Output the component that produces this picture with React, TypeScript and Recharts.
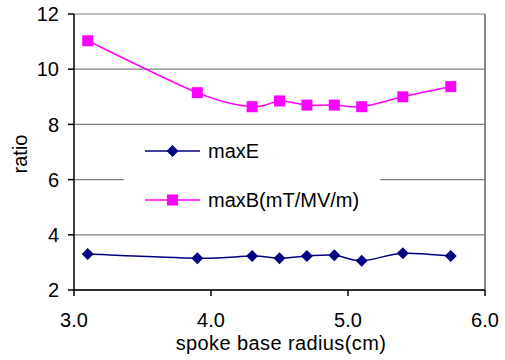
import {
  LineChart,
  Line,
  XAxis,
  YAxis,
  CartesianGrid,
  ReferenceLine,
} from "recharts";

const radius = [3.1, 3.9, 4.3, 4.5, 4.7, 4.9, 5.1, 5.4, 5.75];
const maxE = [3.3, 3.15, 3.23, 3.15, 3.23, 3.26, 3.06, 3.33, 3.23];
const maxB = [11.03, 9.15, 8.64, 8.85, 8.7, 8.7, 8.64, 9.0, 9.37];
const xTicks = [3, 4, 5, 6];
const yTicks = [2, 4, 6, 8, 10, 12];

const NAVY = "#000080";
const MAGENTA = "#ff00ff";
const FONT = "'Liberation Sans', Arial, sans-serif";

const data = radius.map((r, i) => ({ r, maxE: maxE[i], maxB: maxB[i] }));

// Excel-style smoothed line (Catmull-Rom bezier, tension 1/6)
function excelSmooth(context: any) {
  let pts: number[][] = [];
  return {
    areaStart() {},
    areaEnd() {},
    lineStart() {
      pts = [];
    },
    point(x: number, y: number) {
      pts.push([x, y]);
    },
    lineEnd() {
      if (!pts.length) return;
      context.moveTo(pts[0][0], pts[0][1]);
      for (let i = 0; i < pts.length - 1; i++) {
        const p0 = pts[Math.max(i - 1, 0)];
        const p1 = pts[i];
        const p2 = pts[i + 1];
        const p3 = pts[Math.min(i + 2, pts.length - 1)];
        context.bezierCurveTo(
          p1[0] + (p2[0] - p0[0]) / 6,
          p1[1] + (p2[1] - p0[1]) / 6,
          p2[0] - (p3[0] - p1[0]) / 6,
          p2[1] - (p3[1] - p1[1]) / 6,
          p2[0],
          p2[1]
        );
      }
    },
  };
}

function Diamond({ cx, cy, fill }: any) {
  if (cx == null || cy == null) return null;
  const s = 6;
  return (
    <path
      d={`M${cx},${cy - s}L${cx + s},${cy}L${cx},${cy + s}L${cx - s},${cy}Z`}
      fill={fill}
    />
  );
}

function Square({ cx, cy, fill }: any) {
  if (cx == null || cy == null) return null;
  const s = 5.5;
  return <rect x={cx - s} y={cy - s} width={s * 2} height={s * 2} fill={fill} />;
}

// legend sits inside the plot on a white box, like the Excel original
function LegendBox() {
  const rows = [
    { name: "maxE", color: NAVY, Mark: Diamond },
    { name: "maxB(mT/MV/m)", color: MAGENTA, Mark: Square },
  ];
  return (
    <div
      style={{
        position: "absolute",
        left: 124,
        top: 125,
        width: 256,
        height: 90,
        background: "#fff",
      }}
    >
      {rows.map((row, i) => (
        <div
          key={row.name}
          style={{
            position: "absolute",
            left: 21,
            top: 26 + i * 49 - 10,
            height: 20,
            display: "flex",
            alignItems: "center",
          }}
        >
          <svg width={56} height={20}>
            <line x1={0} y1={10} x2={55} y2={10} stroke={row.color} strokeWidth={1.5} />
            <row.Mark cx={27.5} cy={10} fill={row.color} />
          </svg>
          <span
            style={{
              marginLeft: 7,
              fontFamily: FONT,
              fontSize: 20,
              color: "#000",
              lineHeight: "20px",
              whiteSpace: "nowrap",
            }}
          >
            {row.name}
          </span>
        </div>
      ))}
    </div>
  );
}

export default function App() {
  return (
    <div style={{ position: "absolute", left: 0, top: 0, width: 505, height: 360, background: "#fff" }}>
      <LineChart
        width={505}
        height={360}
        data={data}
        margin={{ top: 14, right: 20, left: 0, bottom: 0 }}
      >
        <CartesianGrid vertical={false} stroke="#808080" strokeWidth={1.2} />
        <XAxis
          dataKey="r"
          type="number"
          domain={[3, 6]}
          ticks={xTicks}
          tickFormatter={(v) => Number(v).toFixed(1)}
          height={70}
          stroke="#000"
          strokeWidth={1.5}
          tickSize={6}
          tickMargin={17}
          tick={{ fill: "#000", fontSize: 20, fontFamily: FONT }}
          label={() => (
            <text
              x={281}
              y={350}
              textAnchor="middle"
              fill="#000"
              fontSize={20}
              fontFamily={FONT}
              letterSpacing={0.4}
            >
              spoke base radius(cm)
            </text>
          )}
        />
        <YAxis
          type="number"
          domain={[2, 12]}
          ticks={yTicks}
          width={74}
          stroke="#000"
          strokeWidth={1.5}
          tickSize={6}
          tickMargin={9}
          tick={{ fill: "#000", fontSize: 20, fontFamily: FONT }}
          label={() => (
            <text
              x={27}
              y={154}
              transform="rotate(-90 27 154)"
              textAnchor="middle"
              fill="#000"
              fontSize={20}
              fontFamily={FONT}
            >
              ratio
            </text>
          )}
        />
        <ReferenceLine x={6} stroke="#606060" strokeWidth={1.5} />
        <Line
          type={excelSmooth as any}
          dataKey="maxE"
          stroke={NAVY}
          strokeWidth={1.5}
          isAnimationActive={false}
          dot={(p: any) => <Diamond key={p.index} cx={p.cx} cy={p.cy} fill={NAVY} />}
        />
        <Line
          type={excelSmooth as any}
          dataKey="maxB"
          stroke={MAGENTA}
          strokeWidth={1.5}
          isAnimationActive={false}
          dot={(p: any) => <Square key={p.index} cx={p.cx} cy={p.cy} fill={MAGENTA} />}
        />
      </LineChart>
      <LegendBox />
    </div>
  );
}
